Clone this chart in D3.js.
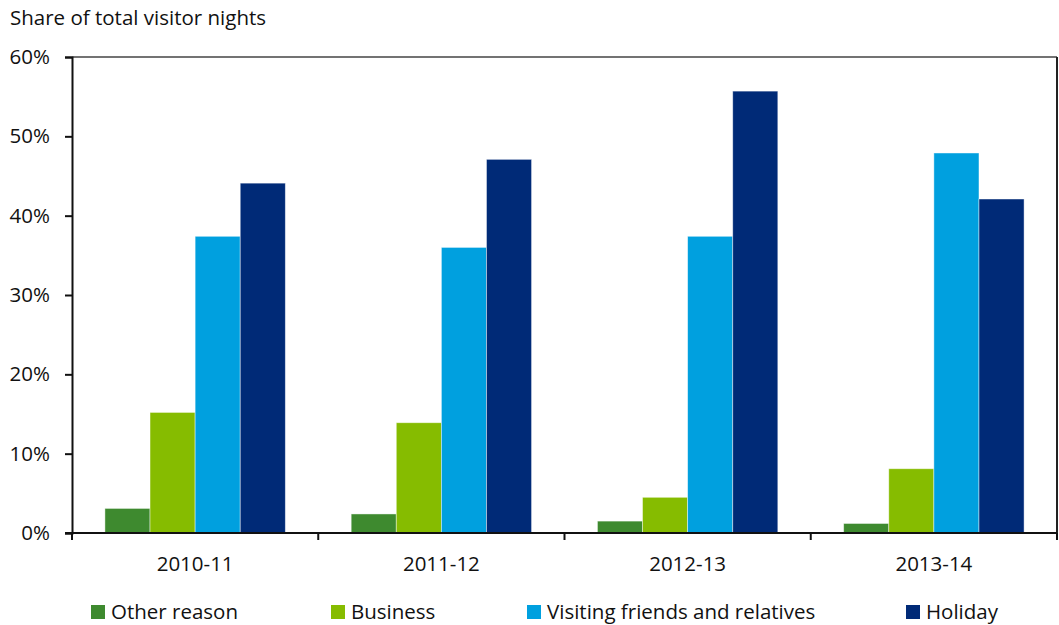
<!DOCTYPE html>
<html>
<head>
<meta charset="utf-8">
<script src="https://cdn.jsdelivr.net/npm/d3@7"></script>
<style>
  html, body { margin: 0; padding: 0; background: #fff; }
  svg { display: block; font-family: "Open Sans", Lato, sans-serif; }
</style>
</head>
<body>
<svg id="chart" width="1059" height="625"></svg>
<script>
// Financial years shown on the x axis
const years = ["2010-11", "2011-12", "2012-13", "2013-14"];
// Purpose of visit series
const series = ["Other reason", "Business", "Visiting friends and relatives", "Holiday"];
// Share of total visitor nights (%) for each series, by year
const otherReason = [3.1, 2.4, 1.5, 1.2];
const business = [15.2, 13.9, 4.5, 8.1];
const visitingFriends = [37.4, 36.0, 37.4, 47.9];
const holiday = [44.1, 47.1, 55.7, 42.1];
const yTicks = [0, 10, 20, 30, 40, 50, 60];
const colors = ["#3e8a2f", "#86bc00", "#00a0df", "#002a77"];

const FONT = "'Open Sans', Lato, sans-serif";
const FS = 20.5;

const values = [otherReason, business, visitingFriends, holiday];
const rows = years.map((y, i) => ({ year: y, vals: series.map((s, j) => ({ key: s, idx: j, v: values[j][i] })) }));

const svg = d3.select("#chart");
const m = { left: 72, right: 1057, top: 57, bottom: 533 };

const x0 = d3.scaleBand().domain(years).range([m.left, m.right]).padding(0);
const x1 = d3.scaleBand().domain(series).range([0, x0.bandwidth()]).paddingInner(0).paddingOuter(0.73);
const y = d3.scaleLinear().domain([0, 60]).range([m.bottom, m.top]);

// Plot frame: top and right edges
svg.append("line").attr("x1", m.left).attr("x2", m.right).attr("y1", m.top).attr("y2", m.top)
  .attr("stroke", "#444").attr("stroke-width", 1.3);
svg.append("line").attr("x1", m.right).attr("x2", m.right).attr("y1", m.top).attr("y2", m.bottom)
  .attr("stroke", "#222").attr("stroke-width", 2);

// Bars
const g = svg.append("g");
g.selectAll("g").data(rows).join("g")
  .attr("transform", d => `translate(${x0(d.year)},0)`)
  .selectAll("rect").data(d => d.vals).join("rect")
  .attr("x", d => x1(d.key))
  .attr("width", x1.bandwidth())
  .attr("y", d => y(d.v))
  .attr("height", d => y(0) - y(d.v))
  .attr("fill", d => colors[d.idx])
  .attr("stroke", "rgba(255,255,255,0.55)")
  .attr("stroke-width", 0.8);

// Y axis
const yAxis = d3.axisLeft(y).tickValues(yTicks).tickFormat(d => d + "%").tickSize(7).tickPadding(15);
const ya = svg.append("g").attr("transform", `translate(${m.left},0)`).call(yAxis);
ya.select(".domain").attr("stroke", "#111").attr("stroke-width", 2);
ya.selectAll(".tick line").attr("stroke", "#111").attr("stroke-width", 2);
ya.selectAll("text").attr("font-size", FS).attr("fill", "#111").attr("font-family", FONT);

// X axis: tick marks at category boundaries, labels centred under each group
const xa = svg.append("g").attr("transform", `translate(0,${m.bottom})`);
xa.append("line").attr("x1", m.left - 7).attr("x2", m.right).attr("y1", 0).attr("y2", 0)
  .attr("stroke", "#111").attr("stroke-width", 2);
const bounds = years.map(d => x0(d)).concat([m.right]);
xa.selectAll("line.b").data(bounds).join("line").attr("class", "b")
  .attr("x1", d => d).attr("x2", d => d).attr("y1", 0).attr("y2", 7)
  .attr("stroke", "#111").attr("stroke-width", 2);
xa.selectAll("text").data(years).join("text")
  .attr("x", d => x0(d) + x0.bandwidth() / 2)
  .attr("y", 38)
  .attr("text-anchor", "middle")
  .attr("font-size", FS).attr("fill", "#111")
  .text(d => d);

// Axis title
svg.append("text").attr("x", 10).attr("y", 25).attr("font-size", FS).attr("fill", "#111")
  .text("Share of total visitor nights");

// Legend
const legendX = [91, 331, 527, 906];
const lg = svg.append("g").selectAll("g").data(series).join("g")
  .attr("transform", (d, i) => `translate(${legendX[i]},605)`);
lg.append("rect").attr("width", 14).attr("height", 14).attr("fill", (d, i) => colors[i]);
lg.append("text").attr("x", 20).attr("y", 14).attr("font-size", FS).attr("fill", "#111").text(d => d);
</script>
</body>
</html>
